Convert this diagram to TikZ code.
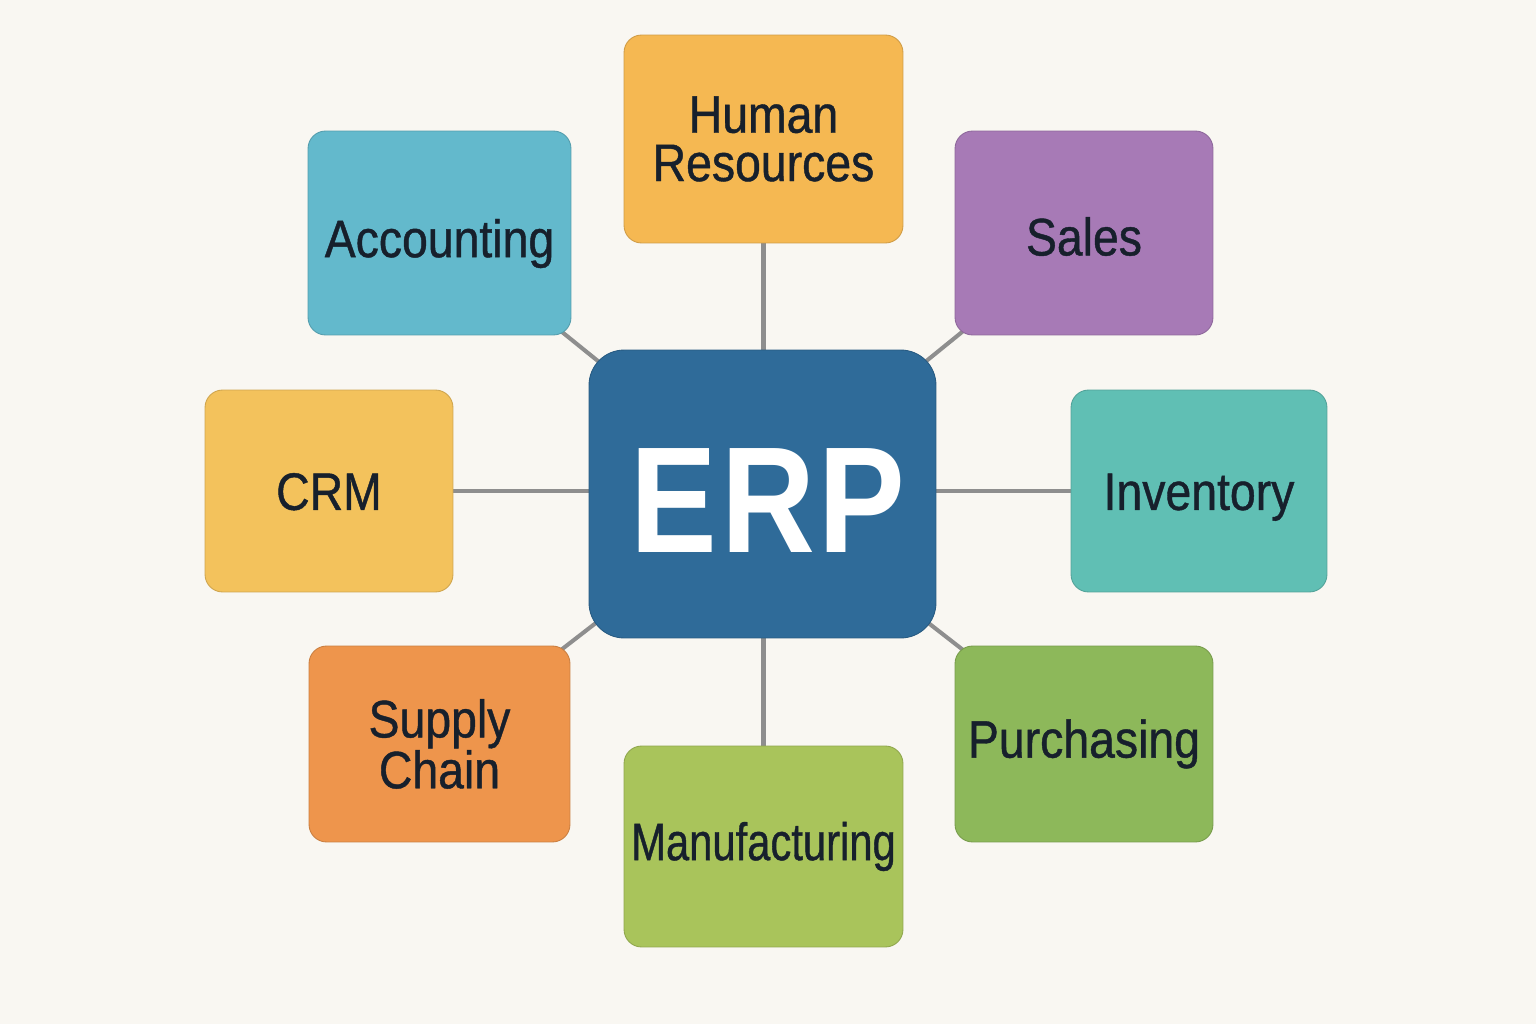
\documentclass[tikz,border=0pt]{standalone}
\usepackage{fontspec}
\usepackage{graphicx}
\usetikzlibrary{backgrounds}
\newfontfamily\lab[FakeStretch=0.88,FakeBold=0.8]{Liberation Sans}
\newfontfamily\hubfont[FakeStretch=0.86]{Liberation Sans}
\definecolor{bgc}{HTML}{F9F7F2}
\definecolor{txt}{HTML}{17202C}
\definecolor{edgec}{HTML}{8E8E8E}
\definecolor{chr}{HTML}{F5B852}
\definecolor{cacc}{HTML}{63B9CC}
\definecolor{csal}{HTML}{A77AB6}
\definecolor{ccrm}{HTML}{F3C25C}
\definecolor{cerp}{HTML}{2F6B99}
\definecolor{cinv}{HTML}{60BFB4}
\definecolor{csc}{HTML}{EE954C}
\definecolor{cpur}{HTML}{8DB85A}
\definecolor{cman}{HTML}{A9C45B}
\tikzset{
  modbox/.style={fill=#1, draw=#1!85!black, line width=0.5pt, rounded corners=10pt,
    inner sep=0pt, align=center, text=txt,
    font=\lab\fontsize{30}{27.5}\selectfont},
  oneline/.style={text height=21.5pt, text depth=0pt},
  hub/.style={fill=cerp, draw=cerp!85!black, line width=0.5pt, rounded corners=20pt,
    inner sep=0pt},
  link/.style={draw=edgec, line width=2.3pt}
}
\begin{document}
\begin{tikzpicture}[x=0.02cm,y=-0.02cm]
\begin{scope}[on background layer]
\fill[bgc] (0,0) rectangle (1536,1024);
\end{scope}
\useasboundingbox (0,0) rectangle (1536,1024);

\node[hub, minimum width=6.94cm, minimum height=5.76cm] (erp) at (762.5,494) {};
\node[text=white, font=\hubfont\bfseries\fontsize{86}{86}\selectfont, inner sep=0pt] (erpt) at (768,501) {E\kern2pt R\kern2pt P};

\node[modbox=chr, minimum width=5.58cm, minimum height=4.16cm] (hr) at (763.5,139) {Human\\Resources};
\node[modbox=cacc, oneline, minimum width=5.26cm, minimum height=4.08cm] (acc) at (439.5,233) {\raisebox{-3pt}{Accounting}};
\node[modbox=csal, oneline, minimum width=5.16cm, minimum height=4.08cm] (sal) at (1084,233) {\raisebox{-2pt}{Sales}};
\node[modbox=ccrm, oneline, minimum width=4.96cm, minimum height=4.04cm] (crm) at (329,491) {CRM};
\node[modbox=cinv, oneline, minimum width=5.12cm, minimum height=4.04cm] (inv) at (1199,491) {Inventory};
\node[modbox=csc, minimum width=5.22cm, minimum height=3.92cm] (sc) at (439.5,744) {Supply\\Chain};
\node[modbox=cpur, oneline, minimum width=5.16cm, minimum height=3.92cm] (pur) at (1084,744) {\raisebox{3pt}{Purchasing}};
\node[modbox=cman, oneline, minimum width=5.58cm, minimum height=4.02cm] (man) at (763.5,846.5) {\raisebox{3pt}{\scalebox{0.9}[1]{Manufacturing}}};

\begin{scope}[on background layer]
\foreach \n in {acc,sal,sc,pur}
  \draw[link] (erp.center) -- (\n.center);
\draw[link] (hr.center) -- (hr.center |- erp.center);
\draw[link] (man.center) -- (man.center |- erp.center);
\draw[link] (crm.center) -- (crm.center -| inv.center);
\end{scope}
\end{tikzpicture}
\end{document}
